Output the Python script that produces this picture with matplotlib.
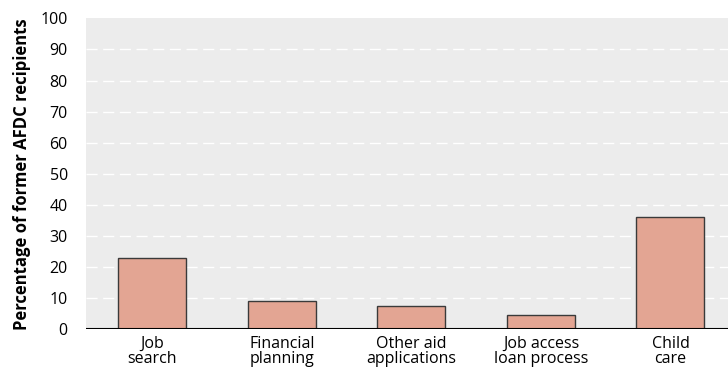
import matplotlib
matplotlib.use("Agg")
import matplotlib.pyplot as plt

categories = ["Job\nsearch", "Financial\nplanning", "Other aid\napplications",
              "Job access\nloan process", "Child\ncare"]
values = [23, 9, 7.5, 4.5, 36]
yticks = [0, 10, 20, 30, 40, 50, 60, 70, 80, 90, 100]

plt.rcParams["font.family"] = ["Open Sans", "DejaVu Sans"]

fig = plt.figure(figsize=(7.28, 3.75), dpi=100)
ax = fig.add_axes([0.118, 0.122, 0.882, 0.829])
ax.set_facecolor("#ececec")

x = list(range(len(categories)))
ax.bar(x, values, width=0.525, color="#e3a593", edgecolor="#3a3a3a",
       linewidth=1.0, zorder=3)

for y in yticks[1:-1]:
    ax.axhline(y, color="white", linewidth=1.0, dashes=(8, 4), zorder=1)
ax.axhline(0, color="black", linewidth=1.5, zorder=4)

ax.set_xlim(-0.513, 4.444)
ax.set_ylim(0, 100)
ax.set_yticks(yticks)
ax.set_xticks(x)
ax.set_xticklabels(categories, fontsize=11.5, linespacing=0.9)
ax.tick_params(axis="both", length=0, colors="black")
ax.tick_params(axis="y", labelsize=11.5, pad=13)
ax.tick_params(axis="x", pad=5)
for s in ax.spines.values():
    s.set_visible(False)

ax.set_ylabel("Percentage of former AFDC recipients", fontsize=12,
              fontweight="bold", labelpad=7)

fig.savefig("out.png", dpi=100)
